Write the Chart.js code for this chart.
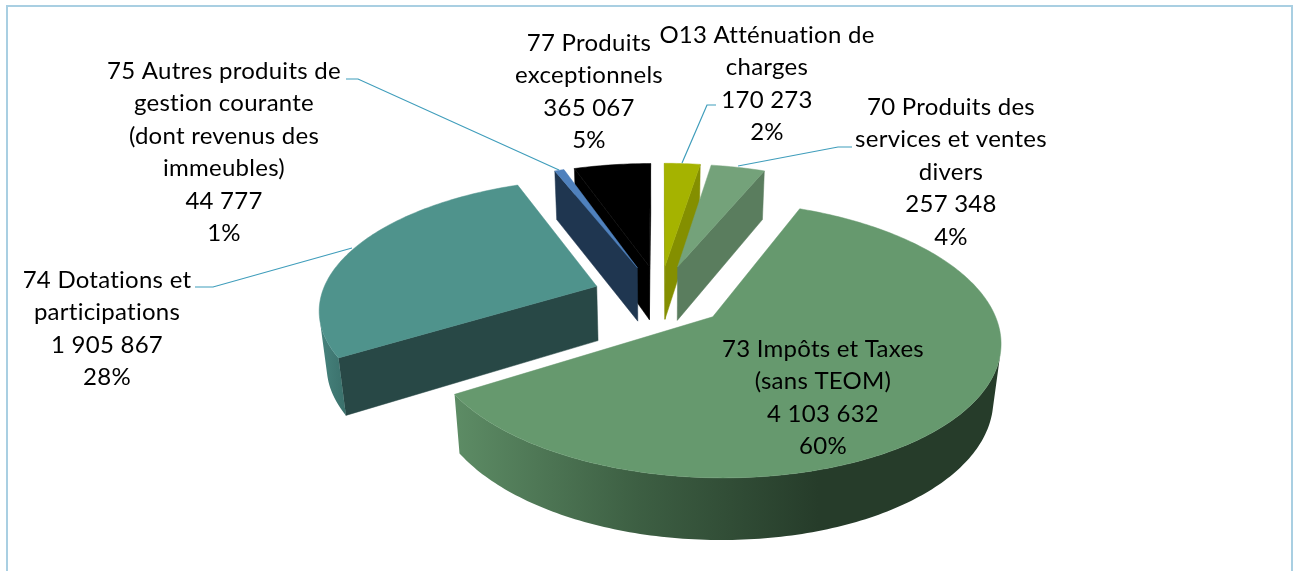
<!DOCTYPE html>
<html lang="fr">
<head>
<meta charset="utf-8">
<title>Recettes</title>
<script src="https://cdn.jsdelivr.net/npm/chart.js@4"></script>
<style>
html,body{margin:0;padding:0;background:#fff;overflow:hidden}
canvas{display:block}
</style>
</head>
<body>
<canvas id="c" width="1293" height="571"></canvas>
<script>
// --- data, in drawing (clockwise) order ---
const categories = [
  ["O13 Atténuation de", "charges"],
  ["70 Produits des", "services et ventes", "divers"],
  ["73 Impôts et Taxes", "(sans TEOM)"],
  ["74 Dotations et", "participations"],
  ["75 Autres produits de", "gestion courante", "(dont revenus des", "immeubles)"],
  ["77 Produits", "exceptionnels"]
];
const values = [170273, 257348, 4103632, 1905867, 44777, 365067];
const topColors = ["#a5b300", "#74a27a", "#66996e", "#4f938c", "#4f81bd", "#000000"];
const cutColors = ["#848f00", "#5a7d5e", "#3d5f43", "#284846", "#1f3650", "#000000"];
const wallStops = [
  ["#848f00", "#848f00"],
  ["#5a7d5e", "#5a7d5e"],
  ["#5d8c65", "#3d5f43", "#263c2a", "#263c2a"],
  ["#47837d", "#3a706b"],
  ["#1f3650", "#1f3650"],
  ["#000000", "#000000"]
];
// --- view settings ---
const view = {sx: 1.125, sy: 0.522, depth: 56, p: 0.16, q: 0.022};
const labelFont = '24px Lato, Carlito, sans-serif';
const lineGap = 32.5;
const labelBoxes = [
  {x: 767, y: 35},
  {x: 951, y: 107},
  {x: 823, y: 349},
  {x: 107, y: 280},
  {x: 224, y: 71},
  {x: 589, y: 43}
];
const leaders = [
  [[716,105],[707,105],[682,163]],
  [[852,147],[838,147],[738,166]],
  null,
  [[195,287],[213,287],[352,248]],
  [[346,79],[358,79],[559,170]],
  null
];

const fmt = n => String(n).replace(/\B(?=(\d{3})+$)/g, ' ');
const total = values.reduce((a,b)=>a+b,0);

const pie3d = {
  id: 'pie3d',
  beforeDraw(chart){
    const c = chart.ctx;
    c.save();
    c.fillStyle = '#fff';
    c.fillRect(0,0,chart.width,chart.height);
    c.strokeStyle = '#a9cfe2';
    c.lineWidth = 2;
    c.strokeRect(7,6,chart.width-8,chart.height+20);
    c.restore();
  },
  beforeDatasetDraw(chart, args){
    const c = chart.ctx;
    const arcs = args.meta.data;
    const order = [5,4,0,1,3,2];
    order.forEach(i => {
      const el = arcs[i];
      const a = el.getProps(['x','y','startAngle','endAngle','outerRadius']);
      const R = a.outerRadius;
      const mid = (a.startAngle + a.endAngle)/2;
      const off = el.options.offset / R;
      const ou = off*Math.cos(mid), ov = off*Math.sin(mid);
      const proj = (u,v,zd) => {
        const w = 1 - view.p*v + view.q*zd;
        return [a.x + R*view.sx*u/w, a.y + (R*view.sy*v + view.depth*zd)/w];
      };
      const ringPt = (t,zd) => proj(ou+Math.cos(t), ov+Math.sin(t), zd);
      const n = Math.max(6, Math.round((a.endAngle-a.startAngle)*60));
      const ts = [];
      for(let k=0;k<=n;k++) ts.push(a.startAngle + (a.endAngle-a.startAngle)*k/n);
      const poly = pts => { c.beginPath(); pts.forEach((p,j)=> j?c.lineTo(p[0],p[1]):c.moveTo(p[0],p[1])); c.closePath(); };
      const area = pts => { let s=0; pts.forEach((p,j)=>{const q=pts[(j+1)%pts.length]; s+=p[0]*q[1]-q[0]*p[1];}); return s; };
      const tip0 = proj(ou,ov,0), tip1 = proj(ou,ov,1);
      // radial cut faces
      const faces = [
        [tip0, ringPt(a.startAngle,0), ringPt(a.startAngle,1), tip1],
        [ringPt(a.endAngle,0), tip0, tip1, ringPt(a.endAngle,1)]
      ];
      faces.forEach(f => {
        if(area(f) < 0){
          poly(f); c.fillStyle = cutColors[i]; c.fill();
          c.strokeStyle = cutColors[i]; c.lineWidth = .5; c.stroke();
        }
      });
      // outer wall: visible stretch of the rim
      const vis = [];
      for(let k=0;k<n;k++){
        const q = [ringPt(ts[k],0), ringPt(ts[k+1],0), ringPt(ts[k+1],1), ringPt(ts[k],1)];
        if(area(q) < 0){ if(!vis.length) vis.push(ts[k]); vis.push(ts[k+1]); }
      }
      if(vis.length){
        const up = vis.map(t=>ringPt(t,0)), dn = vis.map(t=>ringPt(t,1)).reverse();
        const pts = up.concat(dn);
        const xs = pts.map(p=>p[0]);
        const g = c.createLinearGradient(Math.min(...xs),0,Math.max(...xs),0);
        const st = wallStops[i];
        st.forEach((col,j)=>g.addColorStop(j/(st.length-1),col));
        poly(pts); c.fillStyle = g; c.fill();
      }
      // top surface
      const top = [tip0].concat(ts.map(t=>ringPt(t,0)));
      poly(top); c.fillStyle = el.options.backgroundColor; c.fill();
      c.strokeStyle = el.options.backgroundColor; c.lineWidth = .5; c.stroke();
    });
    return false;
  },
  afterDraw(chart){
    const c = chart.ctx;
    c.save();
    c.strokeStyle = '#3f9dbb';
    c.lineWidth = 1.2;
    leaders.forEach(l => {
      if(!l) return;
      c.beginPath();
      l.forEach((p,j)=> j?c.lineTo(p[0],p[1]):c.moveTo(p[0],p[1]));
      c.stroke();
    });
    c.font = labelFont;
    c.letterSpacing = '0.25px';
    c.fillStyle = '#000';
    c.textAlign = 'center';
    c.textBaseline = 'middle';
    categories.forEach((lines,i) => {
      const all = lines.concat([fmt(values[i]), Math.round(values[i]/total*100)+'%']);
      all.forEach((t,j)=> c.fillText(t, labelBoxes[i].x, labelBoxes[i].y + j*lineGap));
    });
    c.restore();
  }
};

new Chart(document.getElementById('c'), {
  type: 'pie',
  data: {
    labels: categories.map(l=>l.join(' ')),
    datasets: [{
      data: values,
      backgroundColor: topColors,
      borderWidth: 0,
      offset: 60
    }]
  },
  options: {
    responsive: false,
    animation: false,
    rotation: 0,
    layout: {padding: {left: 27, top: 21}},
    plugins: {legend: {display:false}, tooltip: {enabled:false}, title:{display:false}}
  },
  plugins: [pie3d]
});
</script>
</body>
</html>
